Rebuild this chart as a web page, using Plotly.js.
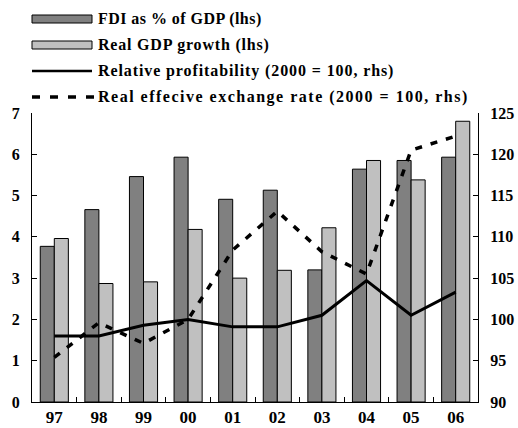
<!DOCTYPE html>
<html>
<head>
<meta charset="utf-8">
<script src="https://cdn.plot.ly/plotly-3.0.1.min.js"></script>
<style>
  html, body { margin: 0; padding: 0; background: #ffffff; }
  #chart { width: 518px; height: 428px; }
</style>
</head>
<body>
<div id="chart"></div>
<script>
// ---- Data ----
const years = ['97', '98', '99', '00', '01', '02', '03', '04', '05', '06'];
const fdiPctGdp = [3.77, 4.66, 5.46, 5.93, 4.91, 5.13, 3.20, 5.64, 5.85, 5.93];
const realGdpGrowth = [3.96, 2.87, 2.91, 4.18, 3.00, 3.19, 4.22, 5.85, 5.38, 6.80];
const relativeProfitability = [98.0, 98.0, 99.3, 100.0, 99.1, 99.1, 100.5, 104.7, 100.5, 103.3];
const realEffectiveExchangeRate = [95.4, 99.6, 97.1, 100.0, 108.4, 113.1, 108.2, 105.5, 120.5, 122.2];
const legendLabels = [
  'FDI as % of GDP (lhs)',
  'Real GDP growth (lhs)',
  'Relative profitability (2000 = 100, rhs)',
  'Real effecive exchange rate (2000 = 100, rhs)'
];
const leftTicks = [0, 1, 2, 3, 4, 5, 6, 7];
const rightTicks = [90, 95, 100, 105, 110, 115, 120, 125];

// ---- Styling ----
const FONT = '"Liberation Serif", "Times New Roman", serif';
const W = 518, H = 428;
const M = { l: 32, r: 40, t: 113, b: 26 };
const plotW = W - M.l - M.r, plotH = H - M.t - M.b;
const px2x = (px) => (px - M.l) / plotW;
const py2y = (py) => (H - M.b - py) / plotH;

const traces = [
  {
    type: 'bar', name: legendLabels[0], x: years, y: fdiPctGdp,
    marker: { color: '#808080', line: { color: '#000000', width: 1 } },
    showlegend: false, hoverinfo: 'x+y'
  },
  {
    type: 'bar', name: legendLabels[1], x: years, y: realGdpGrowth,
    marker: { color: '#c0c0c0', line: { color: '#000000', width: 1 } },
    showlegend: false, hoverinfo: 'x+y'
  },
  {
    type: 'scatter', mode: 'lines', name: legendLabels[2], x: years, y: relativeProfitability,
    yaxis: 'y2', line: { color: '#000000', width: 3 }, showlegend: false
  },
  {
    type: 'scatter', mode: 'lines', name: legendLabels[3], x: years, y: realEffectiveExchangeRate,
    yaxis: 'y2', line: { color: '#000000', width: 3.5, dash: '7px,9px' }, showlegend: false
  }
];

// Custom legend (long symbols as in the reference)
const rowY = [19, 45, 71, 97];
const rowSpacing = [0.45, 0.8, 0.9, 1.5];
const symX0 = 32, symX1 = 92, textX = 96;
const shapes = [
  { type: 'rect', xref: 'paper', yref: 'paper', x0: px2x(symX0), x1: px2x(symX1), y0: py2y(rowY[0] + 4), y1: py2y(rowY[0] - 4),
    fillcolor: '#808080', line: { color: '#000000', width: 1 } },
  { type: 'rect', xref: 'paper', yref: 'paper', x0: px2x(symX0), x1: px2x(symX1), y0: py2y(rowY[1] + 4), y1: py2y(rowY[1] - 4),
    fillcolor: '#c0c0c0', line: { color: '#000000', width: 1 } },
  { type: 'line', xref: 'paper', yref: 'paper', x0: px2x(symX0), x1: px2x(symX1), y0: py2y(rowY[2]), y1: py2y(rowY[2]),
    line: { color: '#000000', width: 2.5 } },
  { type: 'line', xref: 'paper', yref: 'paper', x0: px2x(symX0), x1: px2x(symX1 + 2), y0: py2y(rowY[3]), y1: py2y(rowY[3]),
    line: { color: '#000000', width: 3.5, dash: '8px,10px' } }
];
const annotations = legendLabels.map((t, i) => ({
  text: t, xref: 'paper', yref: 'paper', x: px2x(textX), y: py2y(rowY[i]),
  xanchor: 'left', yanchor: 'middle', showarrow: false,
  font: { family: FONT, size: 16, color: '#000000', weight: 700 }
}));

const xTickFont = { family: FONT, size: 17, color: '#000000', weight: 700 };
const yTickFont = { family: FONT, size: 16, color: '#000000', weight: 700 };
const layout = {
  width: W, height: H,
  margin: M,
  font: { family: FONT },
  paper_bgcolor: '#ffffff', plot_bgcolor: '#ffffff',
  barmode: 'group', bargap: 0.37, bargroupgap: 0,
  showlegend: false,
  xaxis: {
    type: 'category', categoryorder: 'array', categoryarray: years,
    range: [-0.5, 9.5],
    showline: true, linecolor: '#000000', linewidth: 1,
    ticks: 'inside', tickson: 'boundaries', ticklen: 5, tickcolor: '#000000', tickwidth: 1,
    showgrid: false, zeroline: false, tickfont: xTickFont
  },
  yaxis: {
    range: [0, 7], tickvals: leftTicks, ticktext: leftTicks.map(String),
    showline: true, linecolor: '#000000', linewidth: 1,
    ticks: 'inside', ticklen: 5, tickcolor: '#000000', tickwidth: 1,
    ticklabelstandoff: 8,
    showgrid: false, zeroline: false, tickfont: yTickFont
  },
  yaxis2: {
    overlaying: 'y', side: 'right',
    range: [90, 125], tickvals: rightTicks, ticktext: rightTicks.map(String),
    showline: true, linecolor: '#000000', linewidth: 1,
    ticks: 'inside', ticklen: 5, tickcolor: '#000000', tickwidth: 1,
    ticklabelstandoff: 8,
    showgrid: false, zeroline: false, tickfont: yTickFont
  },
  shapes: shapes,
  annotations: annotations
};

Plotly.newPlot('chart', traces, layout, { displayModeBar: false, staticPlot: true }).then(() => {
  // spaced-out lettering as in the reference; keep each label's left edge fixed
  document.querySelectorAll('#chart .annotation-text').forEach((el, i) => {
    const w = el.getComputedTextLength();
    const cx = parseFloat(el.getAttribute('x')) || 0;
    const anchor = el.getAttribute('text-anchor') || 'middle';
    const left = anchor === 'middle' ? cx - w / 2 : (anchor === 'end' ? cx - w : cx);
    el.setAttribute('text-anchor', 'start');
    el.setAttribute('x', left);
    el.querySelectorAll('tspan').forEach((ts) => {
      if (ts.hasAttribute('x')) ts.setAttribute('x', left);
    });
    el.style.letterSpacing = (rowSpacing[i] || 0) + 'px';
  });
});
</script>
</body>
</html>
